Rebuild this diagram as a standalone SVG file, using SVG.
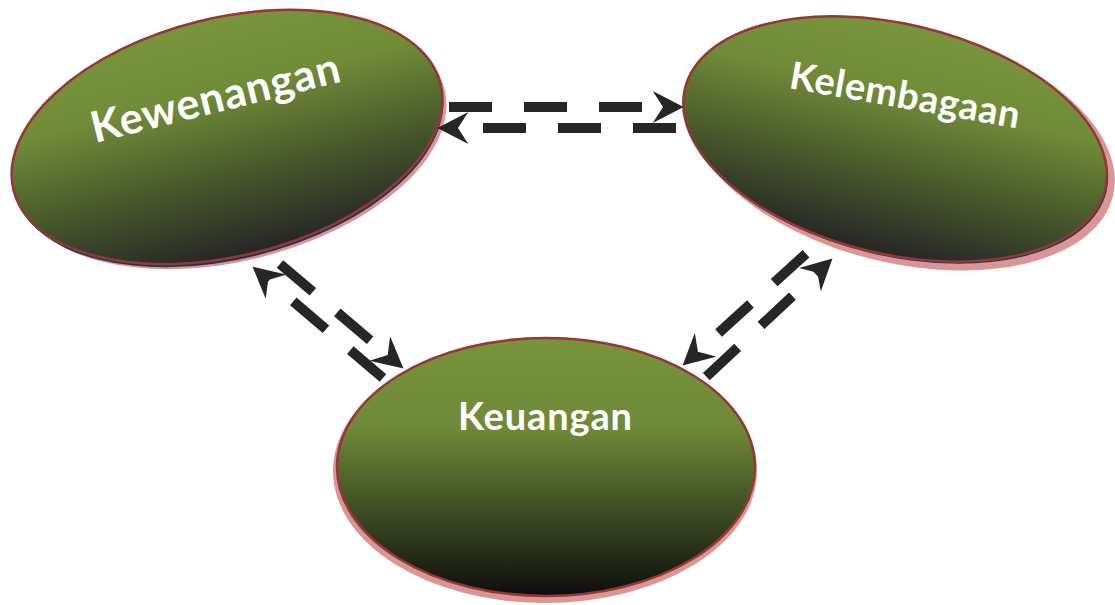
<svg xmlns="http://www.w3.org/2000/svg" width="1115" height="605" viewBox="0 0 1115 605">
<defs>
<linearGradient id="gTilt" x1="0" y1="0" x2="0" y2="1">
<stop offset="0" stop-color="#78943c"/>
<stop offset="0.3" stop-color="#718c39"/>
<stop offset="0.62" stop-color="#4c5e2c"/>
<stop offset="1" stop-color="#262626"/>
</linearGradient>
<linearGradient id="gBottom" x1="0" y1="0" x2="0" y2="1">
<stop offset="0" stop-color="#78943c"/>
<stop offset="0.35" stop-color="#6e8938"/>
<stop offset="0.68" stop-color="#3c4b23"/>
<stop offset="1" stop-color="#0d0d0d"/>
</linearGradient>
<marker id="arr" markerUnits="userSpaceOnUse" markerWidth="32" markerHeight="32" viewBox="0 0 30 31" refX="10" refY="15.5" orient="auto">
<path d="M0,0 L30,15.5 L0,31 L10,15.5 Z" fill="#262626"/>
</marker>
<style>
.shadow{fill:#d99694}
.navy{fill:#17375e}
.body{stroke:#953735;stroke-width:2.5}
.lbl{fill:#ffffff;font-family:Lato,"Open Sans","Liberation Sans",sans-serif;font-weight:700}
.conn{fill:none;stroke:#262626;stroke-width:10;stroke-dasharray:43 32;stroke-linecap:butt;marker-end:url(#arr)}
</style>
</defs>
<rect width="1115" height="605" fill="#ffffff"/>
<g id="kewenangan">
<ellipse class="shadow" cx="231" cy="142" rx="220" ry="119" transform="rotate(-14 231 142)"/>
<ellipse class="navy" cx="228" cy="140" rx="220" ry="119" transform="rotate(-14 228 140)"/>
<ellipse class="body" cx="227" cy="137" rx="220" ry="119" transform="rotate(-14 227 137)" fill="url(#gTilt)"/>
<text class="lbl" x="95" y="143" font-size="43" textLength="255" transform="rotate(-14 95 143)">Kewenangan</text>
</g>
<g id="kelembagaan">
<ellipse class="shadow" cx="902" cy="145" rx="217" ry="118" transform="rotate(13.5 902 145)"/>
<ellipse class="navy" cx="896.5" cy="141" rx="216" ry="115" transform="rotate(13.5 896.5 141)"/>
<ellipse class="body" cx="895" cy="139" rx="216" ry="115" transform="rotate(13.5 895 139)" fill="url(#gTilt)"/>
<text class="lbl" x="788" y="88" font-size="38" textLength="233" transform="rotate(10 788 88)">Kelembagaan</text>
</g>
<g id="keuangan">
<ellipse class="shadow" cx="545" cy="471" rx="212" ry="132"/>
<ellipse class="body" cx="546" cy="467" rx="209" ry="129" fill="url(#gBottom)"/>
<text class="lbl" x="458" y="430" font-size="38" textLength="174">Keuangan</text>
</g>
<g id="connectors">
<path class="conn" d="M449,107 L663,107"/>
<path class="conn" d="M676,128 L458,128"/>
<path class="conn" d="M280,264 L387.7,355.1"/>
<path class="conn" d="M383,378 L268.2,280"/>
<path class="conn" d="M706.3,376.7 L817.4,272.7"/>
<path class="conn" d="M806,253.7 L697.9,351.7"/>
</g>
</svg>
